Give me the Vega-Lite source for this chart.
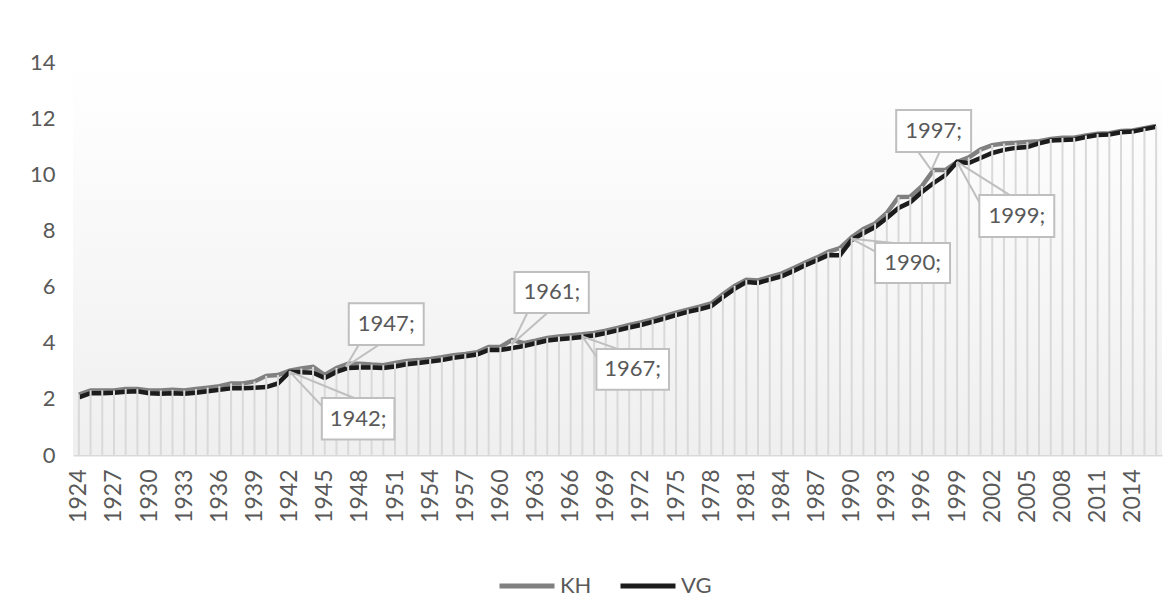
{
  "$schema": "https://vega.github.io/schema/vega-lite/v6.json",
  "autosize": {"type": "none"},
  "padding": {"left": 73, "top": 62, "right": 7, "bottom": 150},
  "width": 1089,
  "height": 393,
  "background": "white",
  "config": {
    "view": {"stroke": null},
    "font": "Lato",
    "axis": {"labelFont": "Lato", "labelColor": "#595959", "labelFontSize": 22, "grid": false, "ticks": false, "title": null, "labelOverlap": false},
    "legend": {"labelFont": "Lato", "labelColor": "#595959", "labelFontSize": 22}
  },
  "datasets": {
    "series": [
      {"year": 1924, "KH": 2.15, "VG": 2.05},
      {"year": 1925, "KH": 2.3, "VG": 2.2},
      {"year": 1926, "KH": 2.3, "VG": 2.2},
      {"year": 1927, "KH": 2.3, "VG": 2.22},
      {"year": 1928, "KH": 2.35, "VG": 2.25},
      {"year": 1929, "KH": 2.35, "VG": 2.27},
      {"year": 1930, "KH": 2.3, "VG": 2.2},
      {"year": 1931, "KH": 2.3, "VG": 2.18},
      {"year": 1932, "KH": 2.32, "VG": 2.2},
      {"year": 1933, "KH": 2.3, "VG": 2.18},
      {"year": 1934, "KH": 2.35, "VG": 2.22},
      {"year": 1935, "KH": 2.4, "VG": 2.27},
      {"year": 1936, "KH": 2.45, "VG": 2.32},
      {"year": 1937, "KH": 2.55, "VG": 2.38},
      {"year": 1938, "KH": 2.55, "VG": 2.38},
      {"year": 1939, "KH": 2.62, "VG": 2.4},
      {"year": 1940, "KH": 2.82, "VG": 2.42},
      {"year": 1941, "KH": 2.85, "VG": 2.55},
      {"year": 1942, "KH": 3.0, "VG": 2.96},
      {"year": 1943, "KH": 3.08, "VG": 2.95},
      {"year": 1944, "KH": 3.14, "VG": 2.93},
      {"year": 1945, "KH": 2.85, "VG": 2.74},
      {"year": 1946, "KH": 3.1, "VG": 2.96},
      {"year": 1947, "KH": 3.25, "VG": 3.1},
      {"year": 1948, "KH": 3.25, "VG": 3.12},
      {"year": 1949, "KH": 3.22, "VG": 3.12},
      {"year": 1950, "KH": 3.2, "VG": 3.1},
      {"year": 1951, "KH": 3.28, "VG": 3.15},
      {"year": 1952, "KH": 3.35, "VG": 3.23},
      {"year": 1953, "KH": 3.38, "VG": 3.28},
      {"year": 1954, "KH": 3.42, "VG": 3.33},
      {"year": 1955, "KH": 3.48, "VG": 3.38},
      {"year": 1956, "KH": 3.55, "VG": 3.46},
      {"year": 1957, "KH": 3.6, "VG": 3.52},
      {"year": 1958, "KH": 3.66, "VG": 3.58},
      {"year": 1959, "KH": 3.85, "VG": 3.74},
      {"year": 1960, "KH": 3.85, "VG": 3.74},
      {"year": 1961, "KH": 4.1, "VG": 3.81},
      {"year": 1962, "KH": 3.98, "VG": 3.88},
      {"year": 1963, "KH": 4.07, "VG": 3.98},
      {"year": 1964, "KH": 4.17, "VG": 4.08},
      {"year": 1965, "KH": 4.22, "VG": 4.12},
      {"year": 1966, "KH": 4.26, "VG": 4.16},
      {"year": 1967, "KH": 4.3, "VG": 4.2},
      {"year": 1968, "KH": 4.35, "VG": 4.26},
      {"year": 1969, "KH": 4.43, "VG": 4.34},
      {"year": 1970, "KH": 4.53, "VG": 4.44},
      {"year": 1971, "KH": 4.63, "VG": 4.54},
      {"year": 1972, "KH": 4.72, "VG": 4.63},
      {"year": 1973, "KH": 4.83, "VG": 4.74},
      {"year": 1974, "KH": 4.95, "VG": 4.86},
      {"year": 1975, "KH": 5.07, "VG": 4.98},
      {"year": 1976, "KH": 5.18, "VG": 5.1},
      {"year": 1977, "KH": 5.28, "VG": 5.19},
      {"year": 1978, "KH": 5.4, "VG": 5.3},
      {"year": 1979, "KH": 5.72, "VG": 5.62},
      {"year": 1980, "KH": 6.02, "VG": 5.92},
      {"year": 1981, "KH": 6.24, "VG": 6.16},
      {"year": 1982, "KH": 6.22, "VG": 6.13},
      {"year": 1983, "KH": 6.34, "VG": 6.25},
      {"year": 1984, "KH": 6.46, "VG": 6.36},
      {"year": 1985, "KH": 6.65, "VG": 6.55},
      {"year": 1986, "KH": 6.85, "VG": 6.75},
      {"year": 1987, "KH": 7.03, "VG": 6.93},
      {"year": 1988, "KH": 7.24, "VG": 7.12},
      {"year": 1989, "KH": 7.37, "VG": 7.12},
      {"year": 1990, "KH": 7.76, "VG": 7.66},
      {"year": 1991, "KH": 8.05, "VG": 7.9},
      {"year": 1992, "KH": 8.25, "VG": 8.12},
      {"year": 1993, "KH": 8.62, "VG": 8.44},
      {"year": 1994, "KH": 9.19, "VG": 8.8},
      {"year": 1995, "KH": 9.2, "VG": 9.0},
      {"year": 1996, "KH": 9.58, "VG": 9.37},
      {"year": 1997, "KH": 10.15, "VG": 9.69},
      {"year": 1998, "KH": 10.15, "VG": 9.97},
      {"year": 1999, "KH": 10.44, "VG": 10.44},
      {"year": 2000, "KH": 10.6, "VG": 10.4},
      {"year": 2001, "KH": 10.88, "VG": 10.58},
      {"year": 2002, "KH": 11.04, "VG": 10.76},
      {"year": 2003, "KH": 11.1, "VG": 10.87},
      {"year": 2004, "KH": 11.12, "VG": 10.94},
      {"year": 2005, "KH": 11.15, "VG": 10.97},
      {"year": 2006, "KH": 11.18, "VG": 11.1},
      {"year": 2007, "KH": 11.26, "VG": 11.2},
      {"year": 2008, "KH": 11.3, "VG": 11.22},
      {"year": 2009, "KH": 11.3, "VG": 11.24},
      {"year": 2010, "KH": 11.38, "VG": 11.33},
      {"year": 2011, "KH": 11.44, "VG": 11.4},
      {"year": 2012, "KH": 11.46, "VG": 11.42},
      {"year": 2013, "KH": 11.54, "VG": 11.5},
      {"year": 2014, "KH": 11.56, "VG": 11.52},
      {"year": 2015, "KH": 11.64, "VG": 11.61},
      {"year": 2016, "KH": 11.72, "VG": 11.69}
    ],
    "callouts": [
      {"label": "1942;", "tipYear": 1942, "tipValue": 2.97, "boxX1": 1944.75, "boxX2": 1950.95, "boxY1": 0.55, "boxY2": 2.03, "baseX1": 1944.75, "baseY1": 1.75, "baseX2": 1947.5, "baseY2": 2.03, "cx": 1947.85, "cy": 1.29},
      {"label": "1947;", "tipYear": 1946.8, "tipValue": 3.15, "boxX1": 1947.05, "boxX2": 1953.45, "boxY1": 3.92, "boxY2": 5.41, "baseX1": 1947.9, "baseY1": 3.92, "baseX2": 1949.6, "baseY2": 3.92, "cx": 1950.25, "cy": 4.66},
      {"label": "1961;", "tipYear": 1961.0, "tipValue": 3.95, "boxX1": 1961.2, "boxX2": 1967.55, "boxY1": 5.06, "boxY2": 6.52, "baseX1": 1962.3, "baseY1": 5.06, "baseX2": 1964.0, "baseY2": 5.06, "cx": 1964.4, "cy": 5.79},
      {"label": "1967;", "tipYear": 1967.0, "tipValue": 4.22, "boxX1": 1968.2, "boxX2": 1974.4, "boxY1": 2.32, "boxY2": 3.78, "baseX1": 1968.2, "baseY1": 3.5, "baseX2": 1970.0, "baseY2": 3.78, "cx": 1971.3, "cy": 3.05},
      {"label": "1990;", "tipYear": 1990.0, "tipValue": 7.7, "boxX1": 1992.0, "boxX2": 1998.4, "boxY1": 6.13, "boxY2": 7.55, "baseX1": 1992.0, "baseY1": 7.25, "baseX2": 1993.6, "baseY2": 7.55, "cx": 1995.2, "cy": 6.84},
      {"label": "1997;", "tipYear": 1996.8, "tipValue": 10.15, "boxX1": 1993.8, "boxX2": 2000.2, "boxY1": 10.79, "boxY2": 12.29, "baseX1": 1995.7, "baseY1": 10.79, "baseX2": 1997.5, "baseY2": 10.79, "cx": 1997.0, "cy": 11.54},
      {"label": "1999;", "tipYear": 1999.0, "tipValue": 10.44, "boxX1": 2000.9, "boxX2": 2007.3, "boxY1": 7.77, "boxY2": 9.26, "baseX1": 2000.9, "baseY1": 9.0, "baseX2": 2003.5, "baseY2": 9.26, "cx": 2004.1, "cy": 8.5}
    ]
  },
  "encoding": {
    "x": {"type": "quantitative",
          "scale": {"domain": [1923.5, 2016.5], "nice": false, "zero": false},
          "axis": {"values": [1924,1927,1930,1933,1936,1939,1942,1945,1948,1951,1954,1957,1960,1963,1966,1969,1972,1975,1978,1981,1984,1987,1990,1993,1996,1999,2002,2005,2008,2011,2014], "format": "d", "labelAngle": 270, "labelPadding": 14, "labelFontSize": 23, "domain": true, "domainColor": "#d9d9d9", "domainWidth": 2, "labelFlush": false, "labelOverlap": false, "labelBound": false}},
    "y": {"type": "quantitative",
          "scale": {"domain": [0, 14], "nice": false},
          "axis": {"values": [0,2,4,6,8,10,12,14], "domain": false, "labelPadding": 18}}
  },
  "layer": [
    {
      "data": {"name": "series"},
      "mark": {"type": "rect", "color": {"gradient": "linear", "x1": 0, "y1": 0, "x2": 0, "y2": 1, "stops": [{"offset": 0, "color": "#ffffff"}, {"offset": 0.15, "color": "#fdfdfd"}, {"offset": 1, "color": "#efefef"}]}},
      "encoding": {
        "x": {"datum": 1923.5, "type": "quantitative"},
        "x2": {"datum": 2016.5},
        "y": {"datum": 0, "type": "quantitative"},
        "y2": {"datum": 14}
      }
    },
    {
      "data": {"name": "series"},
      "transform": [{"fold": ["KH", "VG"], "as": ["series", "value"]}],
      "mark": {"type": "line", "strokeWidth": 4.5, "strokeJoin": "miter"},
      "encoding": {
        "x": {"field": "year", "type": "quantitative"},
        "y": {"field": "value", "type": "quantitative"},
        "color": {"field": "series", "type": "nominal",
                  "scale": {"domain": ["KH", "VG"], "range": ["#808080", "#1c1c1c"]},
                  "legend": {"title": null, "orient": "none", "direction": "horizontal", "legendX": 424, "legendY": 494, "symbolType": "stroke", "symbolSize": 3025, "symbolStrokeWidth": 5, "labelOffset": 3, "columnPadding": 18}},
        "order": {"field": "year", "type": "quantitative"}
      }
    },
    {
      "data": {"name": "series"},
      "mark": {"type": "rule", "color": "#d9d9d9", "strokeWidth": 2},
      "encoding": {
        "x": {"field": "year", "type": "quantitative"},
        "y": {"field": "KH", "type": "quantitative"},
        "y2": {"datum": 0}
      }
    },
    {
      "data": {"name": "callouts"},
      "mark": {"type": "rule", "color": "#bfbfbf", "strokeWidth": 2},
      "encoding": {
        "x": {"field": "tipYear", "type": "quantitative"},
        "y": {"field": "tipValue", "type": "quantitative"},
        "x2": {"field": "baseX1"},
        "y2": {"field": "baseY1"}
      }
    },
    {
      "data": {"name": "callouts"},
      "mark": {"type": "rule", "color": "#bfbfbf", "strokeWidth": 2},
      "encoding": {
        "x": {"field": "tipYear", "type": "quantitative"},
        "y": {"field": "tipValue", "type": "quantitative"},
        "x2": {"field": "baseX2"},
        "y2": {"field": "baseY2"}
      }
    },
    {
      "data": {"name": "callouts"},
      "mark": {"type": "rect", "fill": "white", "stroke": "#bfbfbf", "strokeWidth": 2},
      "encoding": {
        "x": {"field": "boxX1", "type": "quantitative"},
        "x2": {"field": "boxX2"},
        "y": {"field": "boxY1", "type": "quantitative"},
        "y2": {"field": "boxY2"}
      }
    },
    {
      "data": {"name": "callouts"},
      "mark": {"type": "text", "font": "Lato", "fontSize": 22, "color": "#595959", "align": "center", "baseline": "middle"},
      "encoding": {
        "x": {"field": "cx", "type": "quantitative"},
        "y": {"field": "cy", "type": "quantitative"},
        "text": {"field": "label"}
      }
    }
  ]
}
